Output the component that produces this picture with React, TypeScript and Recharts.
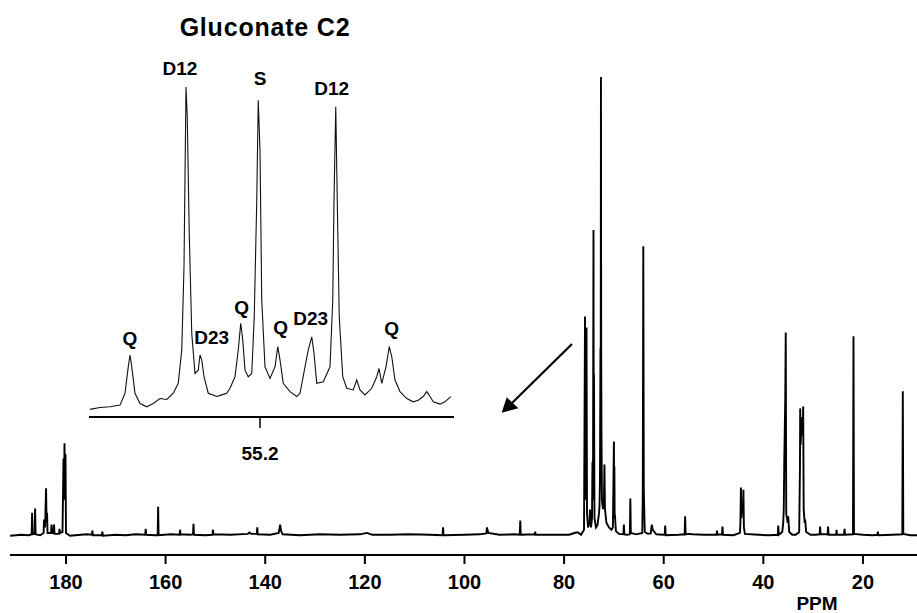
import React from "react";
import { LineChart, Line, XAxis, YAxis, ReferenceDot } from "recharts";

// 13C spectrum, full range: [ppm, relative intensity]
const mainTrace: [number, number][] = [
  [191.2, 0.2], [189, 0.4], [187.5, 0.3],
  [186.9, 0.5], [186.8, 5.2], [186.7, 0.5], [186.3, 0.6], [186.2, 6.1], [186.1, 0.5],
  [185.2, 0.3],
  [184.5, 0.8], [184.4, 3.7], [184.2, 2], [184.0, 10.5], [183.9, 3], [183.8, 5.2], [183.7, 0.8],
  [183.0, 0.8], [182.9, 2.6], [182.8, 0.8], [182.5, 0.8], [182.4, 2.6], [182.3, 0.6],
  [181.4, 0.6], [181.3, 1.7], [181.2, 0.8],
  [180.7, 1], [180.5, 17], [180.4, 8], [180.3, 20.3], [180.2, 10], [180.1, 17.9], [180.0, 0.8],
  [179.2, 0.2], [177, 0.4], [175.8, 0.5], [174.8, 0.4], [174.7, 1.3], [174.6, 0.3],
  [172.8, 0.3], [172.7, 1.1], [172.6, 0.2],
  [170, 0.4], [168, 0.3], [166, 0.5], [164.1, 0.4], [164.0, 1.7], [163.9, 0.4],
  [162, 0.3], [161.6, 0.3], [161.5, 6.5], [161.4, 0.3],
  [159, 0.5], [157.2, 0.4], [157.1, 1.5], [157, 0.5], [155, 0.4], [154.5, 0.5], [154.4, 2.8], [154.3, 0.4],
  [152, 0.3], [150.6, 0.4], [150.5, 1.5], [150.4, 0.5], [147, 0.4],
  [143.5, 0.6], [143.2, 0.9], [142.8, 0.6], [141.7, 0.6], [141.6, 2.0], [141.5, 0.5],
  [139, 0.4], [137.3, 0.8], [137.0, 2.6], [136.8, 1.2], [136.5, 0.5],
  [133, 0.3], [129, 0.5], [125, 0.4], [121, 0.5], [119.6, 0.8], [118.5, 0.4], [115, 0.4],
  [111, 0.5], [107, 0.4], [104.4, 0.3], [104.3, 2.0], [104.2, 0.3],
  [100, 0.4], [97, 0.5], [95.6, 0.7], [95.5, 2.0], [95.2, 0.8], [93, 0.4], [90, 0.5],
  [88.9, 0.4], [88.8, 3.5], [88.7, 0.4], [85.9, 0.5], [85.8, 1.1], [85.7, 0.4],
  [82, 0.4], [79, 0.4], [77.6, 0.9], [77.2, 0.9], [76.6, 0.4],
  [76.0, 1.5], [75.8, 47.9], [75.7, 8], [75.5, 45.5], [75.4, 5], [75.2, 2], [74.9, 3], [74.8, 5.9],
  [74.6, 2], [74.4, 4], [74.3, 16.3], [74.2, 8], [74.1, 66.7], [74.05, 20], [74.0, 35.3], [73.9, 4],
  [73.6, 2], [73.3, 2.5], [73.0, 5], [72.9, 6.5], [72.8, 12], [72.7, 41], [72.65, 30], [72.6, 100],
  [72.55, 40], [72.5, 23.3], [72.4, 8], [72.2, 6], [72.0, 8], [71.9, 15.7], [71.8, 6], [71.5, 3],
  [71, 2], [70.5, 1.5], [70.2, 2], [70.0, 20.7], [69.95, 10], [69.9, 15.3], [69.85, 4], [69.8, 4.8],
  [69.6, 1.2], [69, 0.6], [68.1, 0.5], [68.0, 2.6], [67.9, 0.5], [67.3, 0.4],
  [66.8, 0.5], [66.7, 8.3], [66.6, 0.8], [65.5, 0.5],
  [64.3, 0.8], [64.2, 10], [64.1, 63.2], [64.0, 10], [63.8, 1], [63.2, 0.6],
  [62.6, 0.7], [62.4, 2.6], [62.2, 1.5], [61.5, 0.5], [60, 0.4], [59.8, 0.4], [59.7, 2.4], [59.6, 0.3],
  [57, 0.4], [55.8, 0.5], [55.7, 4.4], [55.6, 0.5], [55.0, 0.6], [54.2, 0.5], [52, 0.4], [50, 0.4],
  [49.4, 0.4], [49.3, 1.3], [49.2, 0.4], [48.3, 0.5], [48.2, 2.2], [48.1, 0.4], [46, 0.3],
  [44.7, 0.8], [44.6, 3], [44.5, 10.7], [44.4, 4], [44.3, 6.3], [44.2, 6.3], [44.1, 5], [44.0, 10.2],
  [43.9, 2], [43.7, 0.6],
  [41, 0.4], [39, 0.3], [37.1, 0.4], [37.0, 2.4], [36.9, 0.4], [36.2, 1], [36.0, 3.1], [35.9, 6],
  [35.8, 16.1], [35.6, 30], [35.5, 44.4], [35.4, 5], [35.1, 3], [35.0, 4.4], [34.8, 1],
  [34.2, 0.4], [33.5, 0.4],
  [32.8, 1], [32.65, 15], [32.6, 27.9], [32.5, 20], [32.3, 26], [32.1, 22], [32.0, 28.3], [31.9, 6],
  [31.7, 3], [31.6, 3.7], [31.4, 1], [30.5, 0.4], [29.5, 0.4],
  [28.7, 0.5], [28.6, 2.2], [28.5, 0.5], [27.1, 0.5], [27.0, 2.2], [26.9, 0.4],
  [25.4, 0.4], [25.3, 1.5], [25.2, 0.4], [23.8, 0.4], [23.7, 1.7], [23.6, 0.4],
  [22.0, 0.5], [21.9, 43.6], [21.8, 0.6], [20, 0.4], [18, 0.3], [17.1, 0.4], [17.0, 1.1], [16.9, 0.3],
  [14, 0.4], [12.1, 0.5], [12.0, 31.6], [11.9, 0.6], [10.5, 0.3], [9.15, 0.3],
];

// gluconate C2 multiplet (inset)
const insetTrace: [number, number][] = [
  [55.88, 2.3], [55.84, 2.9], [55.8, 3.1], [55.76, 3.6], [55.74, 7.2], [55.727, 15.2], [55.72, 18.8],
  [55.713, 15.2], [55.7, 7.2], [55.68, 4.1], [55.653, 3.1], [55.627, 4.1], [55.6, 5.6], [55.573, 5.3],
  [55.547, 7.2], [55.527, 10.2], [55.513, 20.3], [55.504, 45.5], [55.496, 100], [55.491, 90.9],
  [55.483, 55.6], [55.473, 25.3], [55.46, 13.2], [55.447, 14.2], [55.44, 18.8], [55.433, 17.3],
  [55.424, 12.2], [55.407, 7.2], [55.373, 6.2], [55.353, 6.7], [55.333, 7.2], [55.32, 8.7],
  [55.3, 12.2], [55.287, 20.3], [55.277, 28.4], [55.269, 23.3], [55.26, 14.2], [55.247, 12.2],
  [55.233, 13.2], [55.223, 30.4], [55.213, 65.7], [55.207, 96], [55.2, 80.8], [55.193, 35.4],
  [55.18, 15.2], [55.16, 11.7], [55.14, 15.2], [55.129, 21.3], [55.12, 17.3], [55.107, 10.2],
  [55.08, 7.7], [55.053, 6.2], [55.04, 7.2], [55.02, 15.2], [55.007, 20.3], [54.993, 24.3],
  [54.984, 19.3], [54.973, 10.2], [54.947, 10.7], [54.92, 15.2], [54.909, 35.4], [54.904, 65.7],
  [54.897, 94], [54.891, 65.7], [54.883, 30.4], [54.869, 12.2], [54.853, 8.7], [54.827, 8.2],
  [54.813, 11.2], [54.8, 8.2], [54.78, 6.7], [54.753, 8.7], [54.733, 12.2], [54.724, 14.7],
  [54.713, 10.2], [54.696, 15.2], [54.683, 21.3], [54.673, 18.3], [54.66, 11.2], [54.64, 7.7],
  [54.613, 5.6], [54.587, 4.6], [54.567, 5.1], [54.547, 6.2], [54.533, 7.7], [54.52, 6.2],
  [54.507, 4.6], [54.48, 3.9], [54.46, 4.6], [54.437, 6.2],
];

const mainTicks = [180, 160, 140, 120, 100, 80, 60, 40, 20];
const insetTicks = [55.2];

// multiplet labels: text, ppm, height where the label sits
const insetLabels: [string, number, number][] = [
  ["D12", 55.52, 105.8],
  ["S", 55.2, 102.7],
  ["D12", 54.913, 99.7],
  ["Q", 55.72, 23.9],
  ["D23", 55.393, 24.2],
  ["Q", 55.273, 33.3],
  ["Q", 55.117, 27.3],
  ["D23", 54.997, 30.0],
  ["Q", 54.673, 27.0],
];

const FONT = "'Liberation Sans', Arial, Helvetica, sans-serif";

const mainData = mainTrace.map(([ppm, v]) => ({ ppm, v }));
const insetData = insetTrace.map(([ppm, v]) => ({ ppm, v }));

export default function App() {
  return (
    <div
      style={{
        position: "absolute",
        left: 0,
        top: 0,
        width: 917,
        height: 613,
        background: "#fff",
        fontFamily: FONT,
        overflow: "hidden",
      }}
    >
      <LineChart
        width={917}
        height={613}
        data={mainData}
        margin={{ top: 77, right: 0, left: 10, bottom: 0 }}
      >
        <XAxis
          dataKey="ppm"
          type="number"
          domain={[9.15, 191.24]}
          reversed
          ticks={mainTicks}
          interval={0}
          height={58}
          tickSize={9}
          tickMargin={11}
          axisLine={{ stroke: "#000", strokeWidth: 2 }}
          tickLine={{ stroke: "#000", strokeWidth: 2 }}
          tick={{ fill: "#000", fontSize: 20, fontWeight: "bold", fontFamily: FONT }}
        />
        <YAxis hide type="number" domain={[-4, 100]} />
        <Line
          dataKey="v"
          type="linear"
          stroke="#000"
          strokeWidth={1.9}
          dot={false}
          isAnimationActive={false}
        />
      </LineChart>

      <div style={{ position: "absolute", left: 89, top: 0 }}>
        <LineChart
          width={365}
          height={473}
          data={insetData}
          margin={{ top: 54, right: 0, left: 0, bottom: 0 }}
        >
          <XAxis
            dataKey="ppm"
            type="number"
            domain={[54.424, 55.884]}
            reversed
            ticks={insetTicks}
            height={56}
            tickSize={11}
            tickMargin={19}
            tickFormatter={(t: number) => t.toFixed(1)}
            axisLine={{ stroke: "#000", strokeWidth: 2 }}
            tickLine={{ stroke: "#000", strokeWidth: 1.5 }}
            tick={{ fill: "#000", fontSize: 19, fontWeight: "bold", fontFamily: FONT }}
          />
          <YAxis hide type="number" domain={[0, 110]} />
          <Line
            dataKey="v"
            type="linear"
            stroke="#111"
            strokeWidth={1.1}
            dot={false}
            isAnimationActive={false}
          />
          {insetLabels.map(([t, x, y], i) => (
            <ReferenceDot
              key={i}
              x={x}
              y={y}
              r={0}
              fill="none"
              stroke="none"
              label={{
                value: t,
                position: "center",
                fill: "#000",
                fontSize: 19,
                fontWeight: "bold",
                fontFamily: FONT,
              }}
            />
          ))}
        </LineChart>
      </div>

      <div
        style={{
          position: "absolute",
          left: 140,
          top: 12,
          width: 250,
          textAlign: "center",
          fontSize: 25,
          lineHeight: "30px",
          fontWeight: "bold",
          letterSpacing: 0.8,
        }}
      >
        Gluconate C2
      </div>

      <div
        style={{
          position: "absolute",
          left: 777,
          top: 595,
          width: 80,
          textAlign: "center",
          fontSize: 19,
          lineHeight: "18px",
          fontWeight: "bold",
        }}
      >
        PPM
      </div>

      <svg
        width={917}
        height={613}
        style={{ position: "absolute", left: 0, top: 0, pointerEvents: "none" }}
      >
        <line x1={572} y1={344} x2={512} y2={403} stroke="#000" strokeWidth={2.2} />
        <polygon points="501.7,412.7 506.7,397.3 518.3,408.3" fill="#000" />
      </svg>
    </div>
  );
}
